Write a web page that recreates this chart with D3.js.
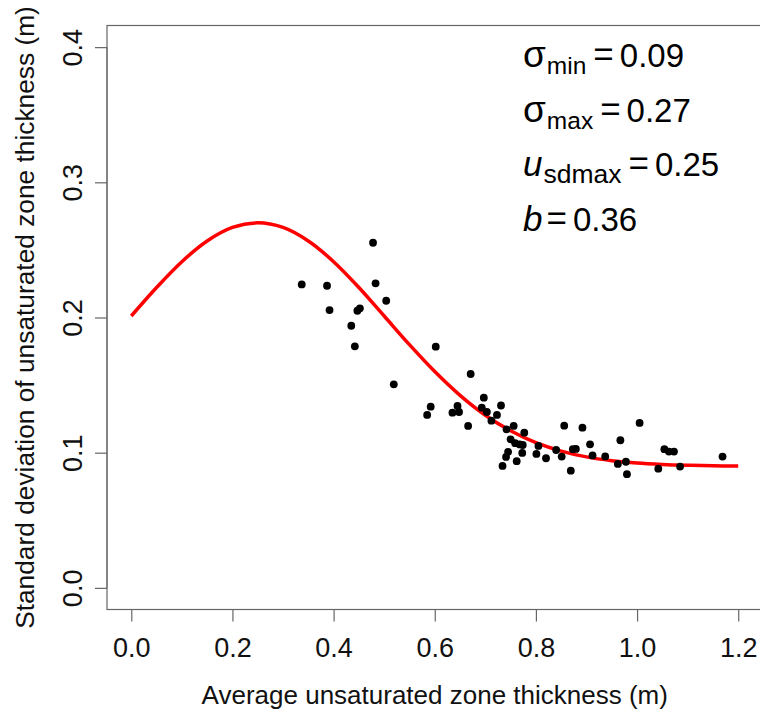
<!DOCTYPE html>
<html>
<head>
<meta charset="utf-8">
<script src="https://cdn.jsdelivr.net/npm/d3@7"></script>
<style>
  html, body { margin: 0; padding: 0; background: #fff; }
  svg text { font-family: "Liberation Sans", Arial, sans-serif; }
</style>
</head>
<body>
<svg id="chart" width="760" height="712"></svg>
<script>
// ---- data ----
const obsU = [0.337, 0.387, 0.392, 0.478, 0.483, 0.504, 0.447, 0.452, 0.435, 0.442,
  0.519, 0.602, 0.671, 0.592, 0.585, 0.645, 0.635, 0.648, 0.666, 0.697,
  0.693, 0.703, 0.731, 0.723, 0.712, 0.756, 0.742, 0.777, 0.750, 0.759,
  0.768, 0.774, 0.745, 0.741, 0.773, 0.762, 0.734, 0.805, 0.801, 0.820,
  0.840, 0.851, 0.856, 0.892, 0.873, 0.879, 0.869, 0.907, 0.912, 0.937,
  0.962, 0.967, 0.978, 0.980, 1.005, 1.042, 1.054, 1.063, 1.073, 1.085, 1.169];
const obsSd = [0.2245, 0.2235, 0.2055, 0.2553, 0.2253, 0.2124, 0.2050, 0.2068, 0.1939, 0.1787,
  0.1506, 0.1784, 0.1582, 0.1340, 0.1279, 0.1346, 0.1296, 0.1301, 0.1198, 0.1407,
  0.1333, 0.1301, 0.1349, 0.1279, 0.1237, 0.1198, 0.1173, 0.1148, 0.1099, 0.1070,
  0.1061, 0.1057, 0.1006, 0.0969, 0.0998, 0.0937, 0.0902, 0.1050, 0.0991, 0.0959,
  0.1020, 0.0971, 0.1200, 0.1185, 0.1026, 0.1028, 0.0867, 0.1062, 0.0980, 0.0972,
  0.0917, 0.1092, 0.0933, 0.0841, 0.1220, 0.0882, 0.1026, 0.1008, 0.1008, 0.0897, 0.0971];

// fitted curve (at 0.05 steps)
const curveU = [0, 0.05, 0.1, 0.15, 0.2, 0.25, 0.3, 0.35, 0.4, 0.45, 0.5, 0.55, 0.6,
  0.65, 0.7, 0.75, 0.8, 0.85, 0.9, 0.95, 1.0, 1.05, 1.1, 1.15, 1.2];
const curveSd = [0.2011, 0.2222, 0.2413, 0.2566, 0.2666, 0.2700, 0.2666, 0.2566, 0.2413,
  0.2222, 0.2011, 0.1799, 0.1600, 0.1424, 0.1277, 0.1162, 0.1074, 0.1012, 0.0969,
  0.0941, 0.0923, 0.0913, 0.0907, 0.0903, 0.0902];

const xTicks = [0.0, 0.2, 0.4, 0.6, 0.8, 1.0, 1.2];
const yTicks = [0.0, 0.1, 0.2, 0.3, 0.4];

const paramSymbols = ["σ", "σ", "u", "b"];
const paramSubs = ["min", "max", "sdmax", ""];
const paramItalic = [false, false, true, true];
const paramValues = ["0.09", "0.27", "0.25", "0.36"];

const xTitle = "Average unsaturated zone thickness (m)";
const yTitle = "Standard deviation of unsaturated zone thickness (m)";

// ---- layout ----
const svg = d3.select("#chart");
const L = 107, R = 762.5, T = 25.5, B = 609.5;
const x = d3.scaleLinear().domain([-0.048, 1.248]).range([L, R]);
const y = d3.scaleLinear().domain([-0.016, 0.416]).range([B, T]);
const axisCol = "#666";

// box
svg.append("rect")
  .attr("x", L).attr("y", T).attr("width", R - L).attr("height", B - T)
  .attr("fill", "none").attr("stroke", axisCol).attr("stroke-width", 1.2);

// x axis
const xAxis = d3.axisBottom(x).tickValues(xTicks).tickFormat(d3.format(".1f"))
  .tickSize(12).tickPadding(8);
const gx = svg.append("g").attr("transform", `translate(0,${B})`).call(xAxis);
gx.select(".domain").attr("d", `M${x(0)},0H${x(1.2)}`).attr("stroke", axisCol);
gx.selectAll(".tick line").attr("stroke", axisCol).attr("stroke-width", 1.2);
gx.selectAll(".tick text").attr("font-size", 27).attr("fill", "#111")
  .attr("font-family", "'Liberation Sans', Arial, sans-serif")
  .attr("dy", null).attr("y", 47);

// y axis
const yAxis = d3.axisLeft(y).tickValues(yTicks).tickFormat(d3.format(".1f"))
  .tickSize(12);
const gy = svg.append("g").attr("transform", `translate(${L},0)`).call(yAxis);
gy.select(".domain").attr("d", `M0,${y(0)}V${y(0.4)}`).attr("stroke", axisCol);
gy.selectAll(".tick line").attr("stroke", axisCol).attr("stroke-width", 1.2);
gy.selectAll(".tick text")
  .attr("font-size", 27).attr("fill", "#111")
  .attr("font-family", "'Liberation Sans', Arial, sans-serif")
  .attr("text-anchor", "middle")
  .attr("dy", null).attr("x", null)
  .attr("transform", "translate(-25,0) rotate(-90)");

// axis titles
svg.append("text")
  .attr("x", (L + R) / 2).attr("y", 704)
  .attr("text-anchor", "middle").attr("font-size", 26).attr("fill", "#111")
  .text(xTitle);
svg.append("text")
  .attr("transform", `translate(34,${(T + B) / 2}) rotate(-90)`)
  .attr("text-anchor", "middle").attr("font-size", 26.3).attr("fill", "#111")
  .text(yTitle);

// fitted curve
const line = d3.line().x((d, i) => x(curveU[i])).y((d, i) => y(curveSd[i]))
  .curve(d3.curveCatmullRom);
svg.append("path")
  .attr("d", line(curveU))
  .attr("fill", "none").attr("stroke", "#ff0000").attr("stroke-width", 3.5)
  .attr("stroke-linejoin", "round");

// points
svg.append("g").selectAll("circle")
  .data(obsU)
  .join("circle")
  .attr("cx", (d) => x(d))
  .attr("cy", (d, i) => y(obsSd[i]))
  .attr("r", 3.9)
  .attr("fill", "#000");

// parameter annotation
const ann = svg.append("g");
const baselines = [67, 122, 176, 231];
paramSymbols.forEach((sym, i) => {
  let cx = 523;
  const by = baselines[i];
  const isGreek = sym === "σ";
  const s = ann.append("text").attr("x", cx).attr("y", by)
    .attr("font-size", isGreek ? 37 : 35).attr("fill", "#000")
    .attr("font-style", paramItalic[i] ? "italic" : "normal")
    .text(sym);
  cx += s.node().getComputedTextLength();
  if (paramSubs[i]) {
    const sub = ann.append("text").attr("x", cx + 1).attr("y", by + 7)
      .attr("font-size", paramSubs[i].length > 3 ? 26.5 : 24.5).attr("fill", "#000")
      .text(paramSubs[i]);
    cx += sub.node().getComputedTextLength() + 1;
    cx += 7;
  } else {
    cx += 4;
  }
  const eq = ann.append("text").attr("x", cx).attr("y", by - 1)
    .attr("font-size", 35).attr("fill", "#000")
    .attr("font-family", "'DejaVu Sans', sans-serif")
    .text("=");
  cx += eq.node().getComputedTextLength() + 6;
  ann.append("text").attr("x", cx).attr("y", by)
    .attr("font-size", 33).attr("fill", "#000")
    .text(paramValues[i]);
});
</script>
</body>
</html>
